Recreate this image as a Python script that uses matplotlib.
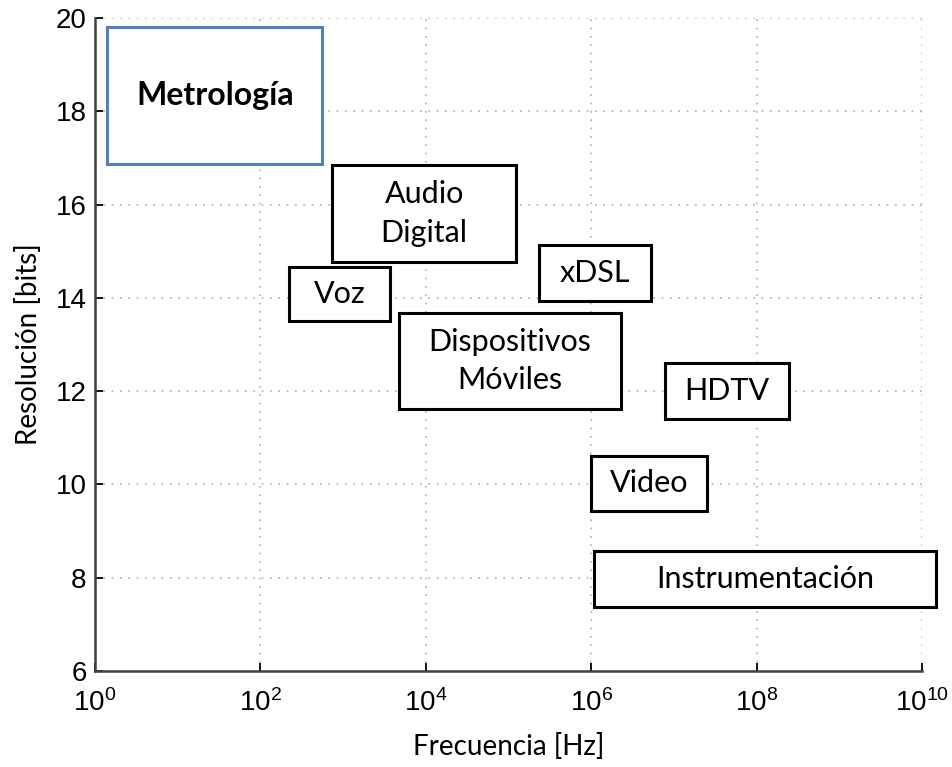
import numpy as np
import matplotlib.pyplot as plt
from matplotlib.patches import Rectangle

# ---------- application regions: log10(freq) span and resolution span ----------
LABELS = ["Metrología", "Audio\nDigital", "Voz", "xDSL", "Dispositivos\nMóviles",
          "HDTV", "Video", "Instrumentación"]
LOGF_LO = [0.15, 2.87, 2.35, 5.37, 3.68, 6.89, 6.00, 6.03]
LOGF_HI = [2.75, 5.09, 3.57, 6.72, 6.36, 8.39, 7.40, 10.17]
BITS_LO = [16.87, 14.77, 13.50, 13.93, 11.62, 11.40, 9.43, 7.37]
BITS_HI = [19.81, 16.85, 14.66, 15.13, 13.67, 12.60, 10.61, 8.57]
EDGE = ["#4f81bd", "black", "black", "black", "black", "black", "black", "black"]
BOLD = [True, False, False, False, False, False, False, False]

XTICKS = [1e0, 1e2, 1e4, 1e6, 1e8, 1e10]
YTICKS = [6, 8, 10, 12, 14, 16, 18, 20]

plt.rcParams["mathtext.fontset"] = "custom"
plt.rcParams["mathtext.rm"] = "Liberation Sans"
plt.rcParams["mathtext.it"] = "Liberation Sans"
plt.rcParams["mathtext.bf"] = "Liberation Sans:bold"

fig = plt.figure(figsize=(9.53, 7.67), dpi=100)
ax = fig.add_axes([0.0997, 0.1252, 0.8678, 0.8513])
ax.set_xscale("log")
ax.set_xlim(1e0, 1e10)
ax.set_ylim(6, 20)
ax.set_xticks(XTICKS)
ax.set_yticks(YTICKS)
ax.minorticks_off()
ax.grid(True, color="#b0b0b0", linestyle=(0, (1, 4)), linewidth=1.2)
ax.set_axisbelow(True)
for s in ["top", "right"]:
    ax.spines[s].set_visible(False)
for s in ["left", "bottom"]:
    ax.spines[s].set_linewidth(1.8)
    ax.spines[s].set_color("#404040")
ax.tick_params(direction="in", length=6, width=1.3, labelsize=20,
               labelfontfamily="Liberation Sans")
ax.tick_params(axis="y", pad=6)
ax.tick_params(axis="x", pad=13)

for lab, x0, x1, y0, y1, ec, b in zip(LABELS, LOGF_LO, LOGF_HI, BITS_LO, BITS_HI, EDGE, BOLD):
    fx0, fx1 = 10 ** x0, 10 ** x1
    ax.add_patch(Rectangle((fx0, y0), fx1 - fx0, y1 - y0, fill=True, facecolor="white",
                           edgecolor=ec, linewidth=2.2, clip_on=False, zorder=3))
    ax.text(10 ** ((x0 + x1) / 2), (y0 + y1) / 2, lab, ha="center", va="center",
            fontsize=23 if b else 22, family="Lato", fontweight="bold" if b else "normal",
            linespacing=1.45, zorder=4, clip_on=False)

ax.set_xlabel("Frecuencia [Hz]", fontsize=20, family="Lato", labelpad=12)
ax.set_ylabel("Resolución [bits]", fontsize=20, family="Lato", labelpad=10)

plt.savefig("out.png", dpi=100)
